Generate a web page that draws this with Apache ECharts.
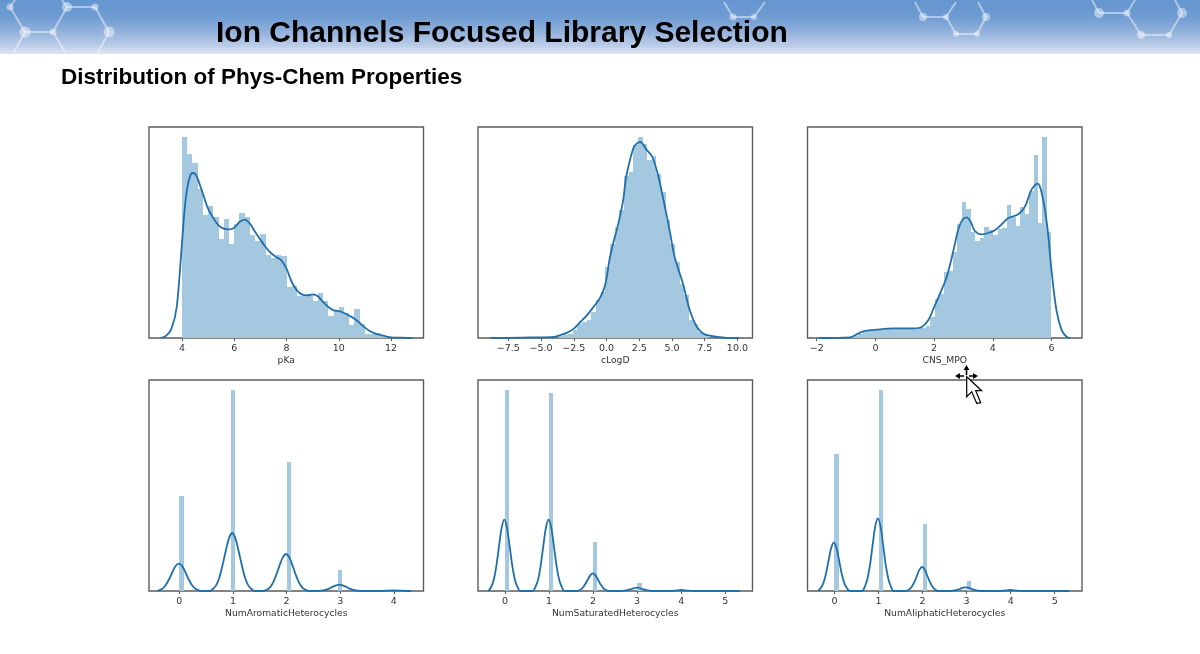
<!DOCTYPE html>
<html>
<head>
<meta charset="utf-8">
<title>Ion Channels Focused Library Selection</title>
<script src="https://cdn.jsdelivr.net/npm/echarts@6/dist/echarts.min.js"></script>
<style>
html, body { margin: 0; padding: 0; background: #fff; }
#chart { width: 1200px; height: 654px; filter: blur(0.45px); }
</style>
</head>
<body>
<div id="chart"></div>
<script>
// heights are relative density, the y axes are hidden in the reference (axis top = 633)
var mainTitle = 'Ion Channels Focused Library Selection';
var subTitle = 'Distribution of Phys-Chem Properties';

// pKa
var pkaBinStart = 4.0, pkaBinWidth = 0.2;
var pkaBars = [603, 551, 526, 448, 369, 395, 363, 297, 358, 283, 343, 375, 362, 310, 291, 313, 248, 241, 250, 247,
    153, 155, 126, 126, 133, 110, 136, 110, 67, 83, 92, 75, 39, 88, 43, 11, 11, 15, 6, 2];
var pkaKde = [[3.2, 0], [3.4, 7], [3.6, 28], [3.8, 93], [4.0, 283], [4.1, 383], [4.2, 448], [4.3, 483], [4.4, 495], [4.5, 493],
    [4.6, 478], [4.8, 433], [5.0, 388], [5.2, 360], [5.4, 338], [5.6, 328], [5.8, 326], [6.0, 331], [6.2, 348], [6.4, 355],
    [6.6, 343], [6.8, 318], [7.0, 295], [7.2, 273], [7.4, 255], [7.6, 243], [7.8, 233], [8.0, 208], [8.2, 168], [8.4, 143],
    [8.6, 130], [8.8, 128], [9.0, 131], [9.2, 125], [9.4, 108], [9.6, 93], [9.8, 83], [10.0, 81], [10.2, 75], [10.4, 67],
    [10.6, 58], [10.8, 45], [11.0, 31], [11.2, 20], [11.4, 13], [11.6, 9], [11.8, 5], [12.0, 2], [12.4, 1], [12.8, 0]];
var pkaTicks = [4, 6, 8, 10, 12];
var pkaTickLabels = ['4', '6', '8', '10', '12'];

// cLogD
var clogdBinStart = -3.66, clogdBinWidth = 0.356;
var clogdBars = [5, 8, 13, 23, 41, 47, 53, 78, 113, 138, 213, 283, 333, 383, 485, 498, 578, 603, 583, 533, 545, 493,
    438, 353, 283, 228, 163, 128, 53, 41, 18, 8];
var clogdKde = [[-8.8, 0], [-6.5, 1], [-5.0, 2], [-4.0, 3], [-3.6, 8], [-3.0, 16], [-2.5, 28], [-2.0, 48], [-1.5, 68],
    [-1.0, 93], [-0.5, 120], [-0.1, 160], [0.25, 240], [0.5, 283], [0.9, 343], [1.27, 413], [1.5, 483], [2.03, 568],
    [2.3, 583], [2.59, 588], [3.05, 565], [3.5, 543], [3.94, 488], [4.3, 423], [4.82, 323], [5.2, 243], [5.84, 163],
    [6.36, 83], [6.9, 33], [7.4, 13], [8.0, 6], [9.0, 1], [10.1, 0]];
var clogdTicks = [-7.5, -5, -2.5, 0, 2.5, 5, 7.5, 10];
var clogdTickLabels = ['\u22127.5', '\u22125.0', '\u22122.5', '0.0', '2.5', '5.0', '7.5', '10.0'];

// CNS_MPO
var mpoBinStart = -0.894, mpoBinWidth = 0.1532;
var mpoBars = [2, 5, 11, 18, 21, 23, 24, 25, 27, 28, 28, 27, 28, 28, 28, 29, 31, 35, 63, 118, 131, 197, 200, 258, 341,
    408, 386, 318, 291, 301, 333, 323, 308, 328, 331, 398, 363, 335, 393, 373, 440, 548, 345, 603, 318];
var mpoKde = [[-1.94, 0], [-0.86, 2], [-0.64, 11], [-0.41, 20], [0.05, 25], [0.61, 29], [1.29, 29], [1.58, 33], [1.8, 53],
    [1.98, 88], [2.2, 133], [2.43, 183], [2.66, 263], [2.83, 328], [2.97, 355], [3.11, 362], [3.25, 348], [3.39, 321],
    [3.62, 311], [3.85, 315], [4.07, 323], [4.3, 341], [4.53, 360], [4.87, 371], [5.1, 395], [5.32, 445], [5.52, 463],
    [5.63, 448], [5.78, 383], [5.89, 308], [6.0, 203], [6.17, 83], [6.35, 23], [6.52, 3], [6.63, 0]];
var mpoTicks = [-2, 0, 2, 4, 6];
var mpoTickLabels = ['\u22122', '0', '2', '4', '6'];

// NumAromaticHeterocycles
var aromaticBinLeft = [0, 0.96, 2, 2.96, 4];
var aromaticBinWidth = 0.08;
var aromaticBars = [284, 602, 388, 62, 1];
var aromaticKde = [
    [-0.41, 0], [-0.37, 3], [-0.31, 8], [-0.25, 19], [-0.19, 36], [-0.13, 57], [-0.07, 75], [-0.01, 82], [0.05, 75], [0.11, 57], [0.17, 36], [0.23, 19], [0.29, 8], [0.35, 3], [0.39, 0],
    [0.565, 0], [0.625, 6], [0.685, 17], [0.745, 40], [0.805, 77], [0.865, 120], [0.925, 158], [0.985, 174], [1.045, 158], [1.105, 120], [1.165, 77], [1.225, 40], [1.285, 17], [1.345, 6], [1.405, 0],
    [1.57, 0], [1.63, 4], [1.69, 11], [1.75, 26], [1.81, 49], [1.87, 77], [1.93, 101], [1.99, 111], [2.05, 101], [2.11, 77], [2.17, 49], [2.23, 26], [2.29, 11], [2.35, 4], [2.41, 0],
    [2.565, 0], [2.625, 1], [2.685, 2], [2.745, 4], [2.805, 8], [2.865, 13], [2.925, 17], [2.985, 19], [3.045, 17], [3.105, 13], [3.165, 8], [3.225, 4], [3.285, 2], [3.345, 1], [3.405, 0],
    [3.7, 0], [3.85, 1], [4.0, 2], [4.15, 1], [4.32, 0]];
var aromaticTicks = [0, 1, 2, 3, 4];
var aromaticTickLabels = ['0', '1', '2', '3', '4'];

// NumSaturatedHeterocycles
var saturatedBinLeft = [0, 1, 2, 3, 4, 5];
var saturatedBinWidth = 0.1;
var saturatedBars = [603, 593, 147, 25, 2, 1];
var saturatedKde = [
    [-0.375, 0], [-0.315, 12], [-0.255, 34], [-0.195, 76], [-0.135, 135], [-0.075, 190], [-0.015, 214], [0.045, 190], [0.105, 135], [0.165, 76], [0.225, 34], [0.285, 12], [0.345, 0],
    [0.63, 0], [0.69, 12], [0.75, 34], [0.81, 76], [0.87, 135], [0.93, 190], [0.99, 214], [1.05, 190], [1.11, 135], [1.17, 76], [1.23, 34], [1.29, 12], [1.35, 0],
    [1.635, 0], [1.695, 3], [1.755, 8], [1.815, 19], [1.875, 33], [1.935, 47], [1.995, 53], [2.055, 47], [2.115, 33], [2.175, 19], [2.235, 8], [2.295, 3], [2.355, 0],
    [2.635, 0], [2.695, 1], [2.755, 2], [2.815, 4], [2.875, 6], [2.935, 9], [2.995, 10], [3.055, 9], [3.115, 6], [3.175, 4], [3.235, 2], [3.295, 1], [3.355, 0],
    [3.7, 0], [3.85, 1], [4.0, 3], [4.15, 1], [4.3, 0], [5.33, 0]];
var saturatedTicks = [0, 1, 2, 3, 4, 5];
var saturatedTickLabels = ['0', '1', '2', '3', '4', '5'];

// NumAliphaticHeterocycles
var aliphaticBinLeft = [0, 1, 2, 3, 4, 5];
var aliphaticBinWidth = 0.1;
var aliphaticBars = [410, 602, 200, 29, 2, 1];
var aliphaticKde = [
    [-0.375, 0], [-0.315, 8], [-0.255, 23], [-0.195, 51], [-0.135, 91], [-0.075, 129], [-0.015, 145], [0.045, 129], [0.105, 91], [0.165, 51], [0.225, 23], [0.285, 8], [0.345, 0],
    [0.625, 0], [0.685, 12], [0.745, 35], [0.805, 77], [0.865, 137], [0.925, 194], [0.985, 218], [1.045, 194], [1.105, 137], [1.165, 77], [1.225, 35], [1.285, 12], [1.345, 0],
    [1.63, 0], [1.69, 4], [1.75, 12], [1.81, 26], [1.87, 45], [1.93, 64], [1.99, 72], [2.05, 64], [2.11, 45], [2.17, 26], [2.23, 12], [2.29, 4], [2.35, 0],
    [2.62, 0], [2.68, 1], [2.74, 2], [2.8, 4], [2.86, 7], [2.92, 10], [2.98, 11], [3.04, 10], [3.1, 7], [3.16, 4], [3.22, 2], [3.28, 1], [3.34, 0],
    [3.7, 0], [3.85, 1], [3.99, 3], [4.15, 1], [4.3, 0], [5.33, 0]];
var aliphaticTicks = [0, 1, 2, 3, 4, 5];
var aliphaticTickLabels = ['0', '1', '2', '3', '4', '5'];

function binsFromStart(start, width, heights) {
    return heights.map(function (h, i) {
        return [start + i * width, start + (i + 1) * width, h];
    });
}

function binsFromLeft(lefts, width, heights) {
    return heights.map(function (h, i) {
        return [lefts[i], lefts[i] + width, h];
    });
}

var barColor = '#a5c8e1';
var lineColor = '#1f6fab';
var frameColor = '#5c5c5c';
var textColor = '#333';

var panels = [
    { name: 'pKa', left: 149, top: 127, min: 2.74, max: 13.24, bins: binsFromStart(pkaBinStart, pkaBinWidth, pkaBars), kde: pkaKde, ticks: pkaTicks, labels: pkaTickLabels },
    { name: 'cLogD', left: 478, top: 127, min: -9.82, max: 11.15, bins: binsFromStart(clogdBinStart, clogdBinWidth, clogdBars), kde: clogdKde, ticks: clogdTicks, labels: clogdTickLabels },
    { name: 'CNS_MPO', left: 807.5, top: 127, min: -2.315, max: 7.04, bins: binsFromStart(mpoBinStart, mpoBinWidth, mpoBars), kde: mpoKde, ticks: mpoTicks, labels: mpoTickLabels },
    { name: 'NumAromaticHeterocycles', left: 149, top: 380, min: -0.567, max: 4.555, bins: binsFromLeft(aromaticBinLeft, aromaticBinWidth, aromaticBars), kde: aromaticKde, ticks: aromaticTicks, labels: aromaticTickLabels },
    { name: 'NumSaturatedHeterocycles', left: 478, top: 380, min: -0.613, max: 5.62, bins: binsFromLeft(saturatedBinLeft, saturatedBinWidth, saturatedBars), kde: saturatedKde, ticks: saturatedTicks, labels: saturatedTickLabels },
    { name: 'NumAliphaticHeterocycles', left: 807.5, top: 380, min: -0.613, max: 5.62, bins: binsFromLeft(aliphaticBinLeft, aliphaticBinWidth, aliphaticBars), kde: aliphaticKde, ticks: aliphaticTicks, labels: aliphaticTickLabels }
];

function renderBin(params, api) {
    var a = api.coord([api.value(0), 0]);
    var b = api.coord([api.value(1), api.value(2)]);
    var x0 = Math.round(a[0]), x1 = Math.round(b[0]), y1 = Math.round(b[1]);
    return {
        type: 'rect',
        shape: { x: x0, y: y1, width: x1 - x0, height: a[1] - y1 },
        style: { fill: barColor }
    };
}

// header band, molecule decoration and the mouse pointer of the screenshot
var hexNodes = [[10, 7, 3.5], [67, 7, 5], [95, 7, 3.5], [109, 32, 5.5], [25, 32, 5.5], [53, 32, 3.5],
    [733, 17, 3.5], [754, 17, 3], [923, 17, 4], [946, 17, 3], [986, 17, 4], [956, 34, 3], [977, 34, 3],
    [1099, 13, 5], [1127, 13, 3.5], [1182, 13, 5], [1141, 35, 4], [1169, 35, 3]];
var hexEdges = [[10, 7, 25, 32], [25, 32, 53, 32], [53, 32, 67, 7], [67, 7, 95, 7], [95, 7, 109, 32], [25, 32, 14, 52], [53, 32, 65, 52],
    [109, 32, 98, 52], [67, 7, 62, 0], [10, 7, 15, 0], [724, 2, 733, 17], [733, 17, 754, 17], [754, 17, 765, 2], [915, 2, 923, 17],
    [923, 17, 946, 17], [946, 17, 956, 34], [956, 34, 977, 34], [977, 34, 986, 17], [986, 17, 978, 2], [946, 17, 956, 2],
    [1092, 0, 1099, 13], [1099, 13, 1127, 13], [1127, 13, 1141, 35], [1141, 35, 1169, 35], [1169, 35, 1182, 13], [1127, 13, 1135, 0], [1182, 13, 1175, 0]];

var graphics = [{
    type: 'rect', z: 0,
    shape: { x: 0, y: 0, width: 1200, height: 54 },
    style: {
        fill: new echarts.graphic.LinearGradient(0, 0, 0, 1, [
            { offset: 0, color: '#6596d0' },
            { offset: 0.3, color: '#6d9bd2' },
            { offset: 0.6, color: '#94b2dc' },
            { offset: 0.85, color: '#bccde8' },
            { offset: 1, color: '#dfe6f3' }
        ])
    }
}];
hexEdges.forEach(function (e) {
    graphics.push({
        type: 'line', z: 1,
        shape: { x1: e[0], y1: e[1], x2: e[2], y2: e[3] },
        style: { stroke: 'rgba(255,255,255,0.45)', lineWidth: 2 }
    });
});
hexNodes.forEach(function (n) {
    graphics.push({
        type: 'circle', z: 1,
        shape: { cx: n[0], cy: n[1], r: n[2] },
        style: { fill: 'rgba(255,255,255,0.45)' }
    });
});
[
    { pts: [[966.5, 365], [963.5, 370], [965.7, 370], [965.7, 375], [967.3, 375], [967.3, 370], [969.5, 370]], fill: '#000' },
    { pts: [[955, 376], [960, 373], [960, 375.2], [964, 375.2], [964, 376.8], [960, 376.8], [960, 379]], fill: '#000' },
    { pts: [[978, 376], [973, 373], [973, 375.2], [969, 375.2], [969, 376.8], [973, 376.8], [973, 379]], fill: '#000' },
    { pts: [[966.7, 376.7], [966.7, 396.7], [971.7, 391.7], [976.7, 403.3], [980.7, 402.7], [975.7, 390.7], [981.7, 390.7]], fill: '#fff', stroke: '#000' }
].forEach(function (p) {
    graphics.push({
        type: 'polygon', z: 100,
        shape: { points: p.pts },
        style: { fill: p.fill, stroke: p.stroke || null, lineWidth: 1.2 }
    });
});

var option = {
    animation: false,
    backgroundColor: '#fff',
    title: [
        { text: mainTitle, left: 216, top: 19, padding: 0, textStyle: { fontFamily: 'Liberation Sans', fontWeight: 'bold', fontSize: 30, color: '#000' } },
        { text: subTitle, left: 61, top: 66, padding: 0, textStyle: { fontFamily: 'Liberation Sans', fontWeight: 'bold', fontSize: 22.5, color: '#000' } }
    ],
    graphic: graphics,
    grid: [],
    xAxis: [],
    yAxis: [],
    series: []
};

panels.forEach(function (p, i) {
    option.grid.push({
        show: true, left: p.left, top: p.top, width: 274.5, height: 211,
        borderColor: frameColor, borderWidth: 1.4, backgroundColor: '#fff'
    });
    option.xAxis.push({
        type: 'value', gridIndex: i, min: p.min, max: p.max,
        name: p.name, nameLocation: 'middle', nameGap: 18.5,
        nameTextStyle: { fontFamily: 'DejaVu Sans', fontSize: 9.2, color: textColor },
        splitLine: { show: false },
        axisLine: { show: false },
        axisTick: { show: true, length: 3, customValues: p.ticks, lineStyle: { color: frameColor, width: 1 } },
        axisLabel: {
            show: true, margin: 6, fontFamily: 'DejaVu Sans', fontSize: 9.5, color: textColor,
            customValues: p.ticks,
            formatter: function (v) { return p.labels[p.ticks.indexOf(v)]; }
        }
    });
    option.yAxis.push({ type: 'value', gridIndex: i, min: 0, max: 633, show: false });
    option.series.push({
        type: 'custom', xAxisIndex: i, yAxisIndex: i,
        renderItem: renderBin,
        encode: { x: [0, 1], y: 2 },
        data: p.bins,
        z: 2
    });
    option.series.push({
        type: 'line', xAxisIndex: i, yAxisIndex: i,
        data: p.kde,
        smooth: 0.3,
        showSymbol: false,
        lineStyle: { color: lineColor, width: 1.8 },
        z: 3
    });
});

var myChart = echarts.init(document.getElementById('chart'));
myChart.setOption(option);
</script>
</body>
</html>
